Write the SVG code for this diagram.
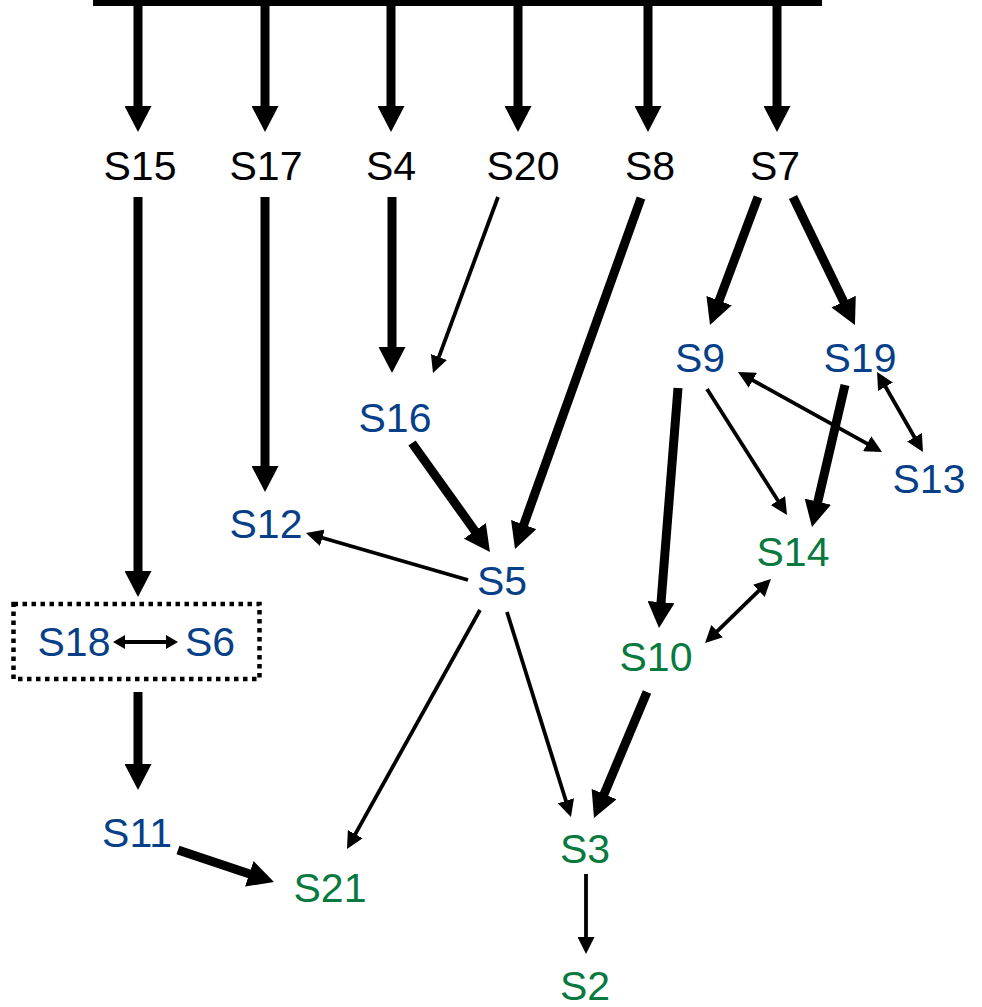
<svg xmlns="http://www.w3.org/2000/svg" width="982" height="1007" viewBox="0 0 982 1007">
<style>
text{font-family:"Liberation Sans",Arial,sans-serif;font-size:41px;text-anchor:middle}
.k{fill:#000}.b{fill:#073f88}.g{fill:#08793f}
.thick{stroke:#000;stroke-width:9;fill:none;marker-end:url(#hk)}
.thin{stroke:#000;stroke-width:3.8;fill:none;marker-end:url(#ht)}
.bi{stroke:#000;stroke-width:3.8;fill:none;marker-end:url(#ht);marker-start:url(#ht)}
.bis{stroke:#000;stroke-width:4;fill:none;marker-end:url(#hs);marker-start:url(#hs)}
</style>
<defs>
<marker id="hk" markerUnits="userSpaceOnUse" viewBox="0 -13.5 26 27" markerWidth="26" markerHeight="27" refX="2" refY="0" orient="auto-start-reverse"><path d="M0,-13.5 L26,0 L0,13.5 z" fill="#000"/></marker>
<marker id="ht" markerUnits="userSpaceOnUse" viewBox="0 -8.5 17 17" markerWidth="17" markerHeight="17" refX="2" refY="0" orient="auto-start-reverse"><path d="M0,-8.5 L17,0 L0,8.5 z" fill="#000"/></marker>
<marker id="hs" markerUnits="userSpaceOnUse" viewBox="0 -7 12 14" markerWidth="12" markerHeight="14" refX="2" refY="0" orient="auto-start-reverse"><path d="M0,-7 L12,0 L0,7 z" fill="#000"/></marker>
</defs>
<g id="connectors">
<rect x="93" y="0" width="729" height="6" fill="#000"/>
<line class="thick" x1="138" y1="3" x2="138" y2="108"/>
<line class="thick" x1="265" y1="3" x2="265" y2="108"/>
<line class="thick" x1="391" y1="3" x2="391" y2="108"/>
<line class="thick" x1="518" y1="3" x2="518" y2="108"/>
<line class="thick" x1="648" y1="3" x2="648" y2="108"/>
<line class="thick" x1="777" y1="3" x2="777" y2="108"/>
<line class="thick" x1="138" y1="197" x2="138" y2="573"/>
<line class="thick" x1="265" y1="197" x2="265" y2="468"/>
<line class="thick" x1="392" y1="197" x2="392" y2="349"/>
<line class="thin" x1="498" y1="197" x2="438.2" y2="358.9"/>
<line class="thick" x1="412" y1="443" x2="476" y2="532.5"/>
<line class="thick" x1="641" y1="198" x2="523.1" y2="526.4"/>
<line class="thin" x1="468" y1="580" x2="320.4" y2="537.2"/>
<line class="thin" x1="480" y1="610" x2="354.3" y2="835.9"/>
<line class="thin" x1="507" y1="612" x2="566.5" y2="802.7"/>
<line class="thick" x1="647" y1="692" x2="603.3" y2="795.9"/>
<line class="thin" x1="586" y1="874" x2="586" y2="939"/>
<line class="thick" x1="758" y1="197" x2="718.4" y2="302.5"/>
<line class="thick" x1="793" y1="197" x2="844.5" y2="303.4"/>
<line class="thick" x1="678" y1="388" x2="660.9" y2="604.1"/>
<line class="thin" x1="707" y1="389" x2="779" y2="502.3"/>
<line class="thick" x1="845" y1="385" x2="817.4" y2="503.6"/>
<line class="bi" x1="751.1" y1="379.3" x2="868.9" y2="444.7"/>
<line class="bi" x1="884.5" y1="385" x2="915.5" y2="439"/>
<line class="bi" x1="760.2" y1="589.4" x2="715.8" y2="632.6"/>
<line class="bis" x1="123" y1="642" x2="168" y2="642"/>
<line class="thick" x1="178" y1="850" x2="251.2" y2="874.4"/>
<line class="thick" x1="138" y1="692" x2="138" y2="766"/>
</g>
<g id="box"><rect x="13.5" y="604" width="246" height="75" fill="none" stroke="#000" stroke-width="4.5" stroke-dasharray="4.5 4.5"/></g>
<g id="S15"><text class="k" x="140" y="180">S15</text></g>
<g id="S17"><text class="k" x="266" y="180">S17</text></g>
<g id="S4"><text class="k" x="391" y="180">S4</text></g>
<g id="S20"><text class="k" x="523" y="180">S20</text></g>
<g id="S8"><text class="k" x="650" y="180">S8</text></g>
<g id="S7"><text class="k" x="775" y="180">S7</text></g>
<g id="S9"><text class="b" x="700" y="372">S9</text></g>
<g id="S19"><text class="b" x="860" y="372">S19</text></g>
<g id="S13"><text class="b" x="929" y="493">S13</text></g>
<g id="S16"><text class="b" x="395" y="432">S16</text></g>
<g id="S12"><text class="b" x="266" y="538">S12</text></g>
<g id="S5"><text class="b" x="502" y="595">S5</text></g>
<g id="S14"><text class="g" x="793" y="566">S14</text></g>
<g id="S10"><text class="g" x="656" y="671">S10</text></g>
<g id="S18"><text class="b" x="74" y="656">S18</text></g>
<g id="S6"><text class="b" x="210" y="656">S6</text></g>
<g id="S11"><text class="b" x="137" y="847">S11</text></g>
<g id="S21"><text class="g" x="330" y="902">S21</text></g>
<g id="S3"><text class="g" x="585" y="863">S3</text></g>
<g id="S2"><text class="g" x="585" y="1000">S2</text></g>
</svg>
